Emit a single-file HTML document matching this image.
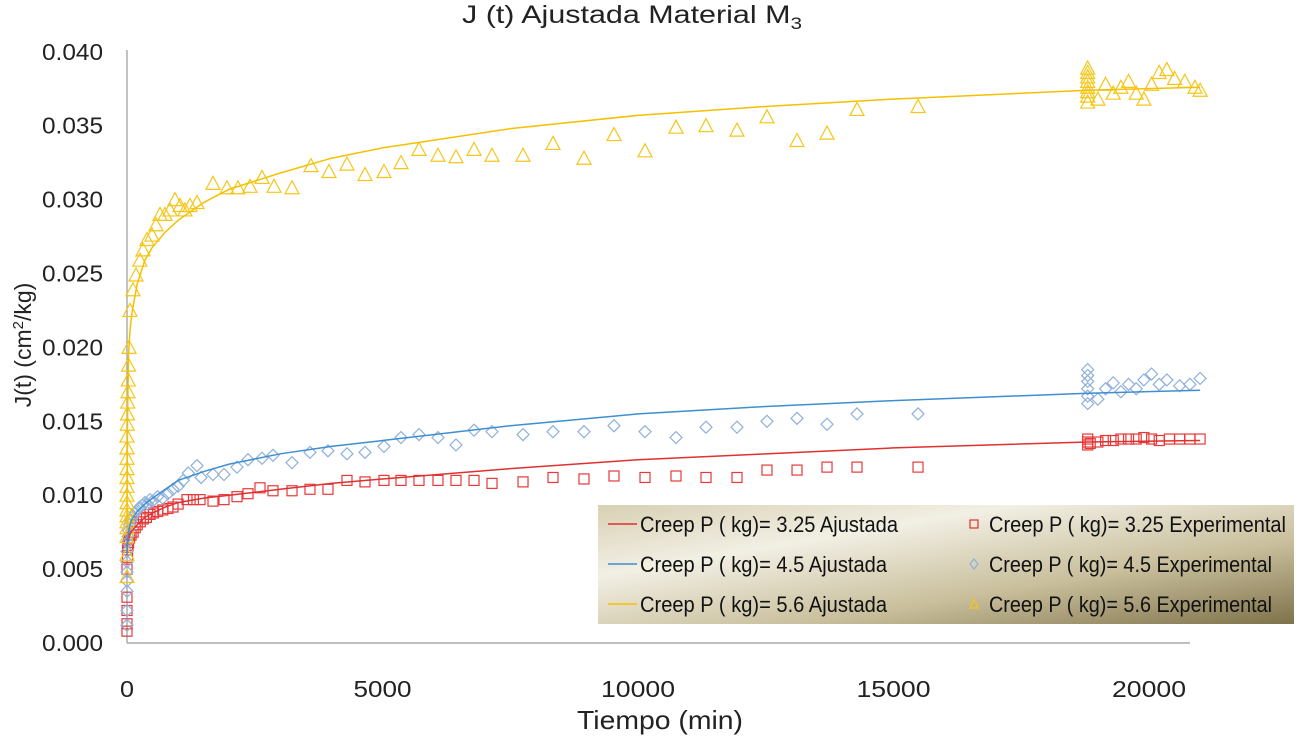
<!DOCTYPE html>
<html><head><meta charset="utf-8">
<style>
body{margin:0;background:#fff;width:1296px;height:737px;overflow:hidden;font-family:"Liberation Sans",sans-serif}
svg text{font-family:"Liberation Sans",sans-serif}
</style></head>
<body>
<svg id="chart" width="1296" height="737" viewBox="0 0 1296 737">
<defs>
<linearGradient id="lg" x1="0" y1="0" x2="1" y2="1">
<stop offset="0" stop-color="#d8d0b4"/><stop offset="0.3" stop-color="#f2efe4"/><stop offset="0.65" stop-color="#c9bf9c"/><stop offset="1" stop-color="#7e724a"/>
</linearGradient>
</defs>
<text x="462" y="23" font-size="25" fill="#222" textLength="340" lengthAdjust="spacingAndGlyphs">J (t) Ajustada Material M<tspan font-size="17" dy="6">3</tspan></text>
<line x1="127" y1="50" x2="127" y2="643" stroke="#999" stroke-width="1.2"/>
<line x1="127" y1="643" x2="1190" y2="643" stroke="#999" stroke-width="1.2"/>
<g id="yticks"></g><g id="xticks"></g>
<text transform="translate(31,345) rotate(-90)" font-size="23" text-anchor="middle" fill="#222">J(t) (cm<tspan font-size="15" dy="-8">2</tspan><tspan dy="8">/kg)</tspan></text>
<text x="577" y="729" font-size="26" fill="#222" textLength="166" lengthAdjust="spacingAndGlyphs">Tiempo (min)</text>
<g id="series"></g>
<g>
<rect x="598" y="505" width="696" height="119" fill="url(#lg)"/>
<g font-size="22" fill="#111">
<line x1="608" y1="524" x2="637" y2="524" stroke="#e03030" stroke-width="1.5"/><text x="640" y="532" textLength="258" lengthAdjust="spacingAndGlyphs">Creep P ( kg)= 3.25 Ajustada</text>
<line x1="608" y1="564" x2="637" y2="564" stroke="#3d8fd0" stroke-width="1.5"/><text x="640" y="572" textLength="247" lengthAdjust="spacingAndGlyphs">Creep P ( kg)= 4.5 Ajustada</text>
<line x1="608" y1="604" x2="637" y2="604" stroke="#f5c000" stroke-width="1.5"/><text x="640" y="612" textLength="247" lengthAdjust="spacingAndGlyphs">Creep P ( kg)= 5.6 Ajustada</text>
<rect x="970" y="520" width="8" height="8" fill="none" stroke="#e03030" stroke-width="1.2"/><text x="989" y="532" textLength="297" lengthAdjust="spacingAndGlyphs">Creep P ( kg)= 3.25 Experimental</text>
<path d="M974 559 L978 564 L974 569 L970 564Z" fill="none" stroke="#8fb0dc" stroke-width="1.2"/><text x="989" y="572" textLength="283" lengthAdjust="spacingAndGlyphs">Creep P ( kg)= 4.5 Experimental</text>
<path d="M974 599 L978 608 L970 608Z" fill="none" stroke="#f5c518" stroke-width="1.2"/><text x="989" y="612" textLength="283" lengthAdjust="spacingAndGlyphs">Creep P ( kg)= 5.6 Experimental</text>
</g></g>
</svg>
<script>
const yTicks=[0,0.005,0.010,0.015,0.020,0.025,0.030,0.035,0.040];
const xTicks=[0,5000,10000,15000,20000];
const fitT=[0,10,30,60,100,200,350,500,750,1000,1500,2000,3000,4000,5000,7500,10000,12500,15000,18800,21000];
const fitRed=[0.0065,0.0068,0.0071,0.0074,0.0076,0.0080,0.0085,0.0088,0.0092,0.0095,0.0098,0.0100,0.0104,0.0108,0.0111,0.0118,0.0124,0.0128,0.0132,0.0136,0.0137];
const fitBlue=[0.0060,0.0068,0.0075,0.0080,0.0084,0.0089,0.0094,0.0098,0.0104,0.0110,0.0116,0.0121,0.0128,0.0133,0.0137,0.0147,0.0155,0.0160,0.0164,0.0169,0.0171];
const fitYellow=[0.0080,0.0150,0.0195,0.0212,0.0224,0.0243,0.0259,0.0268,0.0278,0.0286,0.0298,0.0307,0.0318,0.0328,0.0335,0.0348,0.0357,0.0363,0.0368,0.0374,0.0376];
const redT=[0,0,0,0,0,10,10,20,30,50,80,120,160,200,260,320,380,450,520,600,700,800,900,1000,1174,1300,1429,1683,1898,2153,2368,2603,2857,3229,3581,3933,4305,4658,5029,5362,5714,6086,6438,6791,7143,7750,8337,8943,9530,10137,10744,11331,11937,12524,13112,13699,14286,15480,18800,18800,18800,18850,19000,19150,19300,19450,19600,19750,19900,20050,20200,20400,20600,20800,21000];
const redV=[0.0008,0.0013,0.0022,0.0031,0.0050,0.0058,0.0063,0.0066,0.0068,0.0071,0.0073,0.0075,0.0078,0.0080,0.0082,0.0084,0.0085,0.0087,0.0088,0.0089,0.0090,0.0091,0.0092,0.0094,0.0097,0.0097,0.0097,0.0096,0.0097,0.0099,0.0101,0.0105,0.0103,0.0103,0.0104,0.0104,0.0110,0.0109,0.0110,0.0110,0.0110,0.0110,0.0110,0.0110,0.0108,0.0109,0.0112,0.0111,0.0113,0.0112,0.0113,0.0112,0.0112,0.0117,0.0117,0.0119,0.0119,0.0119,0.0134,0.0136,0.0138,0.0135,0.0136,0.0137,0.0137,0.0138,0.0138,0.0138,0.0139,0.0138,0.0137,0.0138,0.0138,0.0138,0.0138];
const blueT=[0,0,0,0,0,0,0,10,20,30,50,80,120,160,200,250,300,350,400,450,500,600,700,800,900,1000,1100,1200,1370,1450,1683,1898,2153,2368,2642,2857,3229,3581,3933,4305,4658,5029,5362,5714,6086,6438,6791,7143,7750,8337,8943,9530,10137,10744,11331,11937,12524,13112,13699,14286,15480,18800,18800,18800,18800,18800,18800,19000,19150,19300,19450,19600,19750,19900,20050,20200,20350,20600,20800,21000];
const blueV=[0.0012,0.0022,0.0035,0.0042,0.0048,0.0055,0.0062,0.0068,0.0072,0.0076,0.0080,0.0083,0.0086,0.0088,0.0090,0.0092,0.0093,0.0095,0.0094,0.0097,0.0096,0.0099,0.0098,0.0101,0.0104,0.0106,0.0110,0.0115,0.0120,0.0112,0.0114,0.0114,0.0119,0.0124,0.0125,0.0127,0.0122,0.0129,0.0130,0.0128,0.0129,0.0133,0.0139,0.0141,0.0139,0.0134,0.0144,0.0143,0.0141,0.0143,0.0143,0.0147,0.0143,0.0139,0.0146,0.0146,0.0150,0.0152,0.0148,0.0155,0.0155,0.0162,0.0167,0.0172,0.0177,0.0181,0.0185,0.0165,0.0172,0.0176,0.0170,0.0175,0.0172,0.0178,0.0182,0.0175,0.0178,0.0174,0.0175,0.0179];
const yelT=[0,0,0,0,0,0,0,0,0,0,0,0,0,0,0,5,10,15,20,25,30,40,59,117,176,254,313,391,489,567,646,743,841,939,1037,1135,1233,1370,1683,1957,2172,2407,2642,2877,3229,3600,3953,4305,4658,5029,5362,5714,6086,6438,6791,7143,7750,8337,8943,9530,10137,10744,11331,11937,12524,13112,13699,14286,15480,18800,18800,18800,18800,18800,18800,18800,18800,19000,19150,19300,19450,19600,19750,19900,20050,20200,20350,20500,20700,20900,21000];
const yelV=[0.0045,0.0060,0.0072,0.0078,0.0082,0.0086,0.0090,0.0095,0.0100,0.0106,0.0112,0.0118,0.0125,0.0132,0.0140,0.0148,0.0155,0.0163,0.0170,0.0178,0.0188,0.0200,0.0225,0.0239,0.0249,0.0259,0.0266,0.0273,0.0276,0.0283,0.0290,0.0290,0.0293,0.0300,0.0296,0.0293,0.0296,0.0298,0.0311,0.0308,0.0308,0.0309,0.0315,0.0309,0.0308,0.0323,0.0319,0.0324,0.0317,0.0319,0.0325,0.0334,0.0330,0.0329,0.0334,0.0330,0.0330,0.0338,0.0328,0.0344,0.0333,0.0349,0.0350,0.0347,0.0356,0.0340,0.0345,0.0361,0.0363,0.0366,0.0370,0.0373,0.0376,0.0380,0.0383,0.0386,0.0389,0.0368,0.0378,0.0372,0.0376,0.0380,0.0372,0.0368,0.0378,0.0386,0.0388,0.0382,0.0380,0.0376,0.0374];

const NS='http://www.w3.org/2000/svg';
const X=t=>127+t*0.05110;
const Y=v=>643-v*14780;
function mk(tag,attrs,parent){const e=document.createElementNS(NS,tag);for(const k in attrs)e.setAttribute(k,attrs[k]);parent.appendChild(e);return e;}
const yg=document.getElementById('yticks'),xg=document.getElementById('xticks'),sg=document.getElementById('series');
yTicks.forEach(v=>{const t=mk('text',{x:42,y:Y(v)+8,'font-size':23,fill:'#222',textLength:61,lengthAdjust:'spacingAndGlyphs'},yg);t.textContent=v.toFixed(3);

});
xTicks.forEach(v=>{const s=String(v);const w=s.length===1?14:(s.length===4?58:74);
const t=mk('text',{x:X(v)-w/2,y:697,'font-size':23,fill:'#222',textLength:w,lengthAdjust:'spacingAndGlyphs'},xg);t.textContent=s;

});
function line(vals,color,name){const p=mk('polyline',{points:fitT.map((t,i)=>X(t)+','+Y(vals[i])).join(' '),fill:'none',stroke:color,'stroke-width':1.5},sg);

}
function pts(ts,vs,kind,color,name){const g=mk('g',{},sg);


ts.forEach((t,i)=>{const x=X(t),y=Y(vs[i]);let e;
if(kind==='sq')e=mk('rect',{x:x-5,y:y-5,width:10,height:10,fill:'none',stroke:color,'stroke-width':1.2},g);
else if(kind==='di')e=mk('path',{d:`M${x} ${y-6}L${x+6} ${y}L${x} ${y+6}L${x-6} ${y}Z`,fill:'none',stroke:color,'stroke-width':1.2},g);
else e=mk('path',{d:`M${x} ${y-7}L${x+7} ${y+6}L${x-7} ${y+6}Z`,fill:'none',stroke:color,'stroke-width':1.2},g);

});}
pts(redT,redV,'sq','#e83838','series-exp-3-25');
pts(blueT,blueV,'di','#8fb0dc','series-exp-4-5');
pts(yelT,yelV,'tr','#f5c518','series-exp-5-6');
line(fitRed,'#e03030','fit-line-3-25');
line(fitBlue,'#3d8fd0','fit-line-4-5');
line(fitYellow,'#f5c000','fit-line-5-6');
</script>
</body></html>
